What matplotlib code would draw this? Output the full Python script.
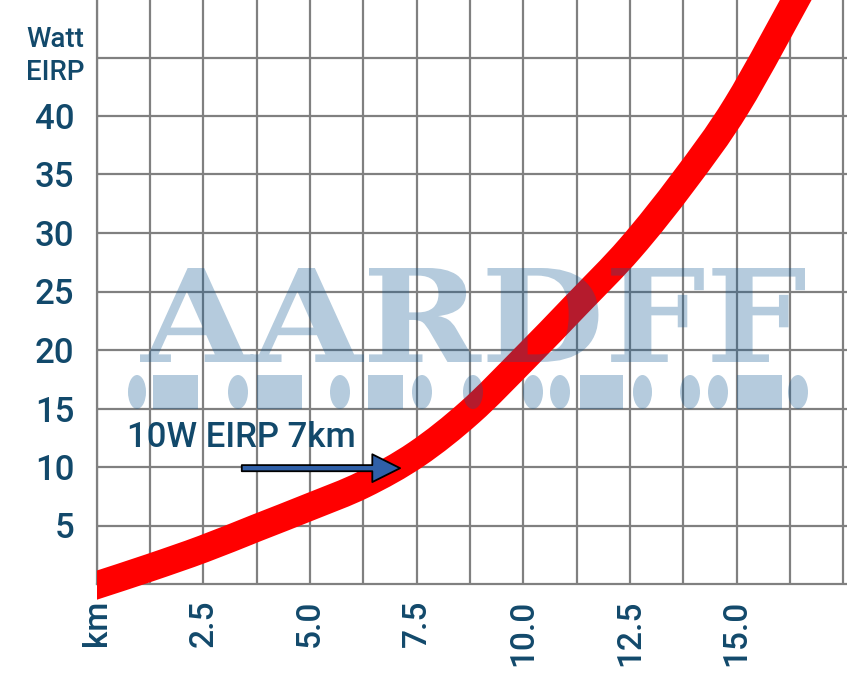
import matplotlib
matplotlib.use("Agg")
import matplotlib.pyplot as plt
from matplotlib.ticker import MultipleLocator
from matplotlib.textpath import TextPath
from matplotlib.font_manager import FontProperties
from matplotlib.patches import PathPatch, Ellipse, Rectangle
from matplotlib.path import Path
from matplotlib.transforms import Affine2D

# values
distance_km = [0, 1.25, 2.5, 3.75, 5.0, 6.25, 7.5, 8.75, 10.0, 11.25, 12.5, 13.75, 15.0, 16.5]
power_w = [-0.1, 1.4, 3.0, 4.8, 6.6, 8.5, 11.1, 14.7, 19.2, 23.9, 28.7, 34.4, 40.9, 50.7]

x_ticks = [0, 2.5, 5.0, 7.5, 10.0, 12.5, 15.0]
x_labels = ["km", "2.5", "5.0", "7.5", "10.0", "12.5", "15.0"]
y_ticks = [5, 10, 15, 20, 25, 30, 35, 40, 45]
y_labels = ["5", "10", "15", "20", "25", "30", "35", "40", ""]

note_text = "10W EIRP 7km"
note_xy = (0.71, 11.7)
arrow_tail = (3.4, 9.9)
arrow_tip = (7.11, 9.9)

TEXT = "#12496b"
GRID = "#808080"

plt.rcParams['font.family'] = ['Roboto', 'DejaVu Sans']
plt.rcParams['font.weight'] = 500

W, H = 847, 680
fig = plt.figure(figsize=(W / 100, H / 100), dpi=100)
ax = fig.add_axes([96.7 / W, 96 / H, 1 - 96.7 / W, 584 / H])


def smooth_path(xs, ys):
    # catmull-rom through the read points, as cubic bezier segments
    pts = list(zip(xs, ys))
    verts = [pts[0]]
    codes = [Path.MOVETO]
    n = len(pts)
    for i in range(n - 1):
        p0 = pts[max(i - 1, 0)]
        p1 = pts[i]
        p2 = pts[i + 1]
        p3 = pts[min(i + 2, n - 1)]
        c1 = (p1[0] + (p2[0] - p0[0]) / 6, p1[1] + (p2[1] - p0[1]) / 6)
        c2 = (p2[0] - (p3[0] - p1[0]) / 6, p2[1] - (p3[1] - p1[1]) / 6)
        verts += [c1, c2, p2]
        codes += [Path.CURVE4] * 3
    return Path(verts, codes)


# start the curve a bit left of the axis and cut it there, so the left end is straight
curve = PathPatch(smooth_path([-0.5] + distance_km, [power_w[0] - 0.6] + power_w),
                  fc="none", ec="#ff0000", lw=20, capstyle="butt", joinstyle="round",
                  zorder=3, transform=ax.transData)
ax.add_patch(curve)
clip = Rectangle((0, -0.1), 1.1, 1.2, transform=ax.transAxes)
curve.set_clip_path(clip)

ax.set_xlim(0, (W - 96.7) / 42.67)
ax.set_ylim(0, 584 / 11.7)

ax.set_xticks(x_ticks)
ax.set_xticklabels(x_labels, rotation=90, fontsize=24, color=TEXT)
ax.xaxis.set_minor_locator(MultipleLocator(1.25))
ax.set_yticks(y_ticks)
ax.set_yticklabels(y_labels, fontsize=25, color=TEXT)
ax.tick_params(axis="x", which="both", length=0, pad=11)
ax.tick_params(axis="y", which="both", length=0, pad=16)

ax.set_axisbelow(True)
ax.grid(which="both", color=GRID, lw=1.6)
for s in ["top", "right"]:
    ax.spines[s].set_visible(False)
for s in ["left", "bottom"]:
    ax.spines[s].set_color(GRID)
    ax.spines[s].set_linewidth(1.6)

# axis unit label
fig.text(84 / W, 1 - 47 / H, "Watt", ha="right", va="baseline", fontsize=20, color=TEXT)
fig.text(84 / W, 1 - 80 / H, "EIRP", ha="right", va="baseline", fontsize=20, color=TEXT)

# annotation
ax.text(note_xy[0], note_xy[1], note_text, fontsize=25, color=TEXT, ha="left",
        va="baseline", zorder=5)
ax.annotate("", xy=arrow_tip, xytext=arrow_tail,
            arrowprops=dict(arrowstyle="simple,head_length=1.0,head_width=1.0,tail_width=0.22",
                            mutation_scale=20, fc="#3060a8", ec="black", lw=1.3,
                            shrinkA=0, shrinkB=0), zorder=5)

# watermark (semi transparent, on top of everything)
wm_color = (16 / 255, 89 / 255, 146 / 255)
wm_alpha = 0.31
tp = TextPath((0, 0), "AARDFF", size=100,
              prop=FontProperties(family="DejaVu Serif", weight="bold"))
ext = tp.get_extents()
bx0, bx1 = 140 / W, 805 / W
by0, by1 = 1 - 362 / H, 1 - 268 / H
tr = Affine2D().translate(-ext.x0, -ext.y0).scale((bx1 - bx0) / ext.width,
                                                  (by1 - by0) / ext.height).translate(bx0, by0)
fig.add_artist(PathPatch(tp, transform=tr + fig.transFigure, fc=wm_color, ec="none",
                         alpha=wm_alpha, zorder=10))

wm_shapes = [("o", 128, 146), ("s", 153, 198), ("o", 228, 248), ("s", 257, 302),
             ("o", 330, 350), ("s", 368, 403), ("o", 412, 432), ("o", 463, 483),
             ("o", 523, 543), ("o", 550, 570), ("s", 580, 623), ("o", 633, 652),
             ("o", 680, 700), ("o", 708, 728), ("s", 737, 782), ("o", 788, 808)]
sy0, sy1 = 1 - 409 / H, 1 - 375 / H
for kind, a, b in wm_shapes:
    if kind == "o":
        p = Ellipse(((a + b) / 2 / W, (sy0 + sy1) / 2), (b - a) / W, sy1 - sy0)
    else:
        p = Rectangle((a / W, sy0), (b - a) / W, sy1 - sy0)
    p.set_transform(fig.transFigure)
    p.set_facecolor(wm_color)
    p.set_edgecolor("none")
    p.set_alpha(wm_alpha)
    p.set_zorder(10)
    fig.add_artist(p)

fig.savefig("out.png", dpi=100)
